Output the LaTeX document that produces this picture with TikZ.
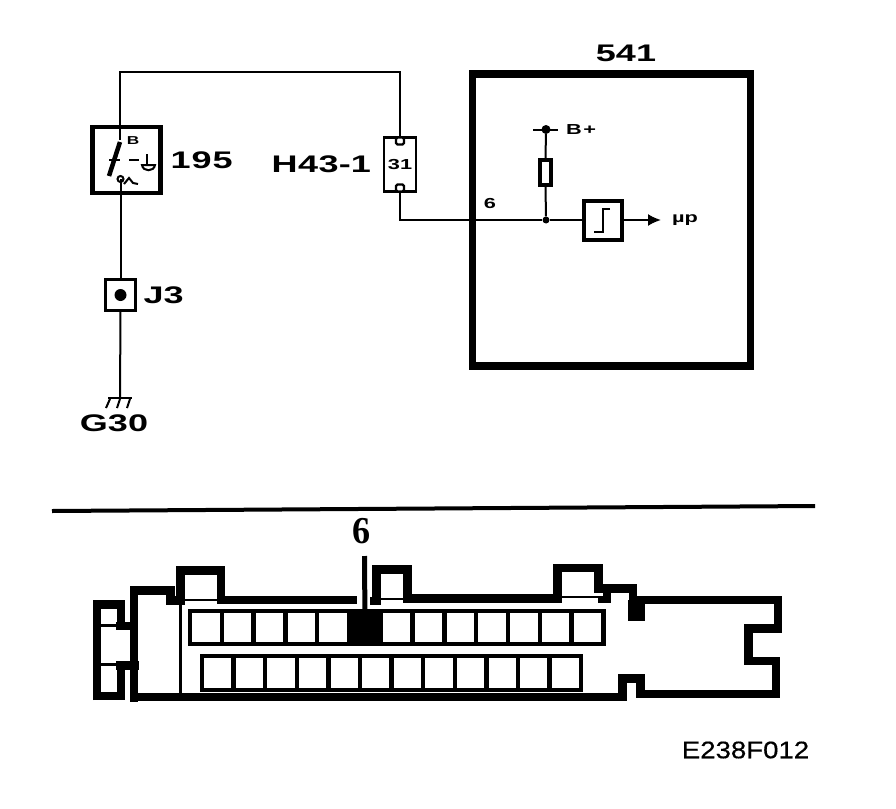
\documentclass[tikz,border=0pt]{standalone}
\usepackage{fontspec}
\setmainfont{Liberation Sans}
\newfontfamily\widefont[FakeStretch=1.5]{Liberation Sans}
\newfontfamily\codefont[FakeStretch=1.15,FakeBold=.5]{Liberation Sans}
\newfontfamily\pinfont[FakeStretch=.95]{Liberation Serif}
\usetikzlibrary{positioning,arrows.meta}

\begin{document}
\begin{tikzpicture}[
      x = 1pt, y = -1pt,
      node distance = 8pt,
      base/.style={rectangle, draw, inner sep = 0pt, outer sep = 0pt},
      wire/.style={line width = 2pt},
      biglabel/.style={inner sep = 0pt, font = \widefont\bfseries\fontsize{24}{24}\selectfont},
      tinylabel/.style={inner sep = 0pt, font = \widefont\bfseries\fontsize{14.5}{15}\selectfont},
      cell/.style={base, line width = 4.4pt, minimum height = 33pt},
      toprow/.style={cell, minimum width = 31.8pt},
      lowrow/.style={cell, minimum width = 31.6pt, minimum height = 34.5pt},
      pin/.style={base, line width = 2.2pt, rounded corners = 1.5pt, fill = white, minimum width = 8pt, minimum height = 7pt},
      outline/.style={line width = 8.5pt, line join = miter, line cap = butt},
    ]
      \useasboundingbox (0,0) rectangle (896,808);

      % 195
      \node[base, line width = 4.5pt, minimum width = 68pt, minimum height = 66pt] (sw195) at (126.5,160) {};
      \node[biglabel, right = 10pt of sw195] (sw195l) {1\kern1pt 9\kern1pt 5};
      \coordinate (swB) at (120,140);
      \coordinate (swA) at (120.5,179);
      \node[inner sep = 0pt, font = \widefont\bfseries\fontsize{11.5}{12}\selectfont] (swBl) at (133,141) {B};
      \draw[line width = 4.5pt] (120,142) -- (109,176);
      \draw[wire] (109,160) -- (120,160);
      \draw[wire] (129,160) -- (139,160);
      \draw[wire] (147,154) -- (147,165);
      \draw[wire] (142,165) .. controls (143,172) and (154,172) .. (155,165) -- cycle;
      \draw[wire] (swA) circle (3pt);
      \draw[line width = 2pt] (124,184) -- (129,178) -- (133,183) -- (138,184);

      % H43-1
      \node[base, line width = 2.5pt, minimum width = 32pt, minimum height = 54pt] (h43) at (400,164.5) {};
      \node[biglabel, left = 11pt of h43, xshift = -2pt] (h43l) {H\kern.6pt 4\kern.6pt 3-1};
      \node[tinylabel] (h43n) at (h43.center) {31};
      \node[pin, below = 0pt of h43.north] (h43a) {};
      \node[pin, above = 0pt of h43.south] (h43b) {};

      % J3
      \node[base, line width = 3.5pt, minimum width = 30pt, minimum height = 31pt] (j3) at (120.5,295) {};
      \node[biglabel, right = 8pt of j3] (j3l) {J3};
      \node[circle, fill, inner sep = 0pt, minimum size = 12pt] (j3d) at (j3.center) {};

      % G30
      \coordinate (g30bar) at (120,398);
      \draw[line width = 2.5pt] (108,398) -- (132,398);
      \draw[wire] (110,399) -- (106,408);
      \draw[wire] (120,399) -- (117,408);
      \draw[wire] (130,399) -- (127,408);
      \node[biglabel] (g30l) at (114,423) {G30};

      % 541
      \node[base, line width = 7.5pt, minimum width = 278pt, minimum height = 292pt] (ecu) at (611.5,220) {};
      \node[biglabel, above = 12pt of ecu, xshift = 14.5pt] (ecul) {541};
      \node[tinylabel] (pin6) at (490,204) {6};

      \coordinate (bplus) at (546,129.5);
      \node[circle, fill, inner sep = 0pt, minimum size = 9pt] (bplusd) at (bplus) {};
      \node[tinylabel, right = 20pt of bplus] (bplusl) {B\kern1.5pt +};
      \node[base, line width = 4.2pt, minimum width = 11pt, minimum height = 25pt] (res) at (545.5,172.5) {};
      \node[circle, fill, inner sep = 0pt, minimum size = 7pt] (jun) at (546,220) {};
      \node[base, line width = 4pt, minimum width = 38pt, minimum height = 39pt] (sch) at (602.5,220) {};
      \draw[line width = 2.5pt] (594,232) -- (603,232) -- (603,209) -- (610,209);
      \coordinate (upc) at (661,220);
      \node[tinylabel, right = 11pt of upc] (upcl) {µp};

      % wires
      \coordinate (topl) at (120,72);
      \coordinate (topr) at (400,72);
      \coordinate (h43c) at (400,220);
      \coordinate (bplusa) at (533,130);
      \coordinate (bplusb) at (558,130);
      \draw[wire] (swB) -- (topl) -- (topr) -- (h43a.north);
      \draw[wire] (swA) -- (j3.north);
      \draw[wire] (j3.south) -- (g30bar);
      \draw[wire] (h43b.south) -- (h43c) -- (jun);
      \draw[wire] (jun) -- (sch.west);
      \draw[wire] (bplusa) -- (bplusb);
      \draw[wire] (bplusd) -- (res.north);
      \draw[wire] (res.south) -- (jun);
      \draw[wire, -{Latex[length = 13pt, width = 12pt]}] (sch.east) -- (upc);

      % divider
      \draw[line width = 4pt] (52,511) -- (815,506);

      % housing
      \draw[outline]
        (134,701.5) -- (134,590.5) -- (170.5,590.5) -- (170.5,600.5) -- (180.5,600.5)
        -- (180.5,570.5) -- (221,570.5) -- (221,600) -- (357,600)
        ;
      \draw[outline]
        (370,601) -- (376.5,601) -- (376.5,569.5) -- (407.5,569.5) -- (407.5,598.5)
        -- (557.5,598.5) -- (557.5,568) -- (598.5,568) -- (598.5,588.5) -- (633,588.5)
        -- (633,600) -- (778,600) -- (778,628.5) -- (748.5,628.5) -- (748.5,661)
        -- (776,661) -- (776,694) -- (640.5,694) -- (640.5,678.5) -- (622.5,678.5)
        -- (622.5,697) -- (134,697)
        ;
      \fill (628,600) rectangle (645,621);
      \fill (598,596) rectangle (611,603);
      \fill (603,584) rectangle (611,603);
      \draw[line width = 2pt] (180.5,600) -- (221,600);
      \draw[line width = 2pt] (376.5,598.5) -- (407.5,598.5);
      \draw[line width = 2pt] (557.5,597) -- (598.5,597);
      \draw[outline]
        (97,700) -- (97,604.5) -- (121,604.5) -- (121,630)
        (116,626) -- (134,626)
        (116,665.5) -- (139,665.5)
        (121,662) -- (121,696) -- (93,696)
        ;
      \draw[line width = 3pt] (97,625) -- (121,625);
      \draw[line width = 3pt] (97,664) -- (121,664);
      \draw[line width = 3pt] (180,600) -- (180,695);

      % pin 6
      \node[inner sep = 0pt, font = \pinfont\bfseries\fontsize{38}{38}\selectfont] (pinl) at (362,531) {6};
      \coordinate (pinlead) at (364.5,556);

      % upper row
      \node[toprow] (t1) at (205.9,627.5) {};
      \node[toprow, right = 0cm of t1] (t2) {};
      \node[toprow, right = 0cm of t2] (t3) {};
      \node[toprow, right = 0cm of t3] (t4) {};
      \node[toprow, right = 0cm of t4] (t5) {};
      \node[toprow, right = 0cm of t5, fill = black] (t6) {};
      \node[toprow, right = 0cm of t6] (t7) {};
      \node[toprow, right = 0cm of t7] (t8) {};
      \node[toprow, right = 0cm of t8] (t9) {};
      \node[toprow, right = 0cm of t9] (t10) {};
      \node[toprow, right = 0cm of t10] (t11) {};
      \node[toprow, right = 0cm of t11] (t12) {};
      \node[toprow, right = 0cm of t12] (t13) {};
      \draw[line width = 5pt] (pinlead) -- (t6.north);

      % lower row
      \node[lowrow] (b1) at (217.8,673) {};
      \node[lowrow, right = 0cm of b1] (b2) {};
      \node[lowrow, right = 0cm of b2] (b3) {};
      \node[lowrow, right = 0cm of b3] (b4) {};
      \node[lowrow, right = 0cm of b4] (b5) {};
      \node[lowrow, right = 0cm of b5] (b6) {};
      \node[lowrow, right = 0cm of b6] (b7) {};
      \node[lowrow, right = 0cm of b7] (b8) {};
      \node[lowrow, right = 0cm of b8] (b9) {};
      \node[lowrow, right = 0cm of b9] (b10) {};
      \node[lowrow, right = 0cm of b10] (b11) {};
      \node[lowrow, right = 0cm of b11] (b12) {};

      % code
      \node[inner sep = 0pt, font = \codefont\fontsize{24}{24}\selectfont] (code) at (745.5,750) {E238F012};
    \end{tikzpicture}
\end{document}
